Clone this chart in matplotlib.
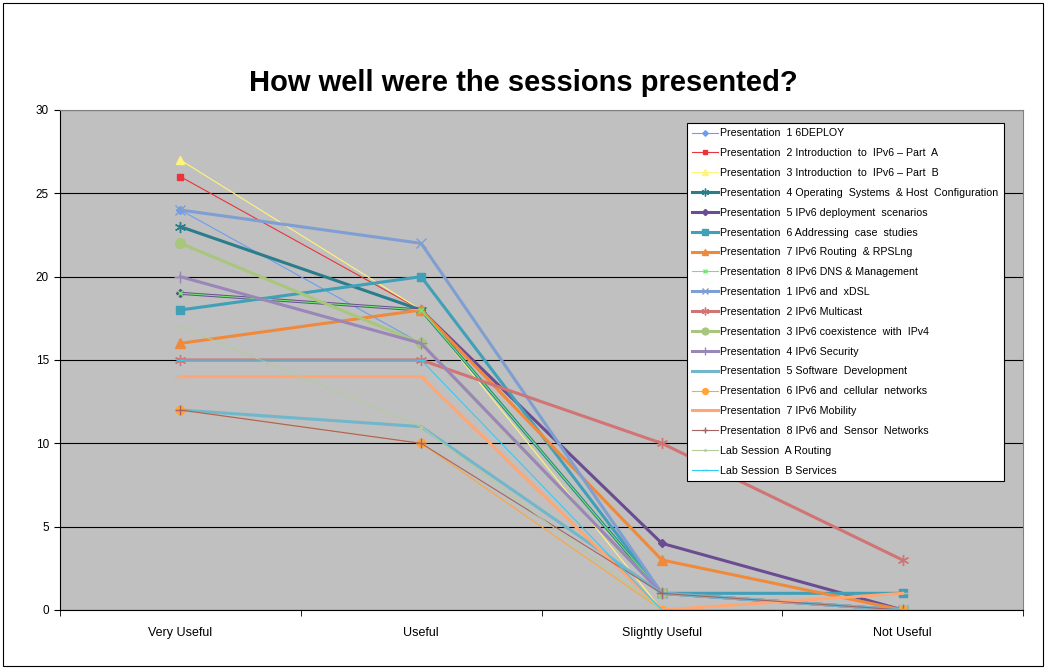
import matplotlib.pyplot as plt
from matplotlib.patches import Rectangle

plt.rcParams['font.family'] = ['Liberation Sans', 'DejaVu Sans']

# Ratings per session
categories = ["Very Useful", "Useful", "Slightly Useful", "Not Useful"]
sessions = [
    "Presentation  1 6DEPLOY",
    "Presentation  2 Introduction  to  IPv6 \u2013 Part  A",
    "Presentation  3 Introduction  to  IPv6 \u2013 Part  B",
    "Presentation  4 Operating  Systems  & Host  Configuration",
    "Presentation  5 IPv6 deployment  scenarios",
    "Presentation  6 Addressing  case  studies",
    "Presentation  7 IPv6 Routing  & RPSLng",
    "Presentation  8 IPv6 DNS & Management",
    "Presentation  1 IPv6 and  xDSL",
    "Presentation  2 IPv6 Multicast",
    "Presentation  3 IPv6 coexistence  with  IPv4",
    "Presentation  4 IPv6 Security",
    "Presentation  5 Software  Development",
    "Presentation  6 IPv6 and  cellular  networks",
    "Presentation  7 IPv6 Mobility",
    "Presentation  8 IPv6 and  Sensor  Networks",
    "Lab Session  A Routing",
    "Lab Session  B Services",
]
votes = [
    [24, 16, 1, 0],
    [26, 18, 1, 0],
    [27, 18, 0, 0],
    [23, 18, 1, 0],
    [19, 18, 4, 0],
    [18, 20, 1, 1],
    [16, 18, 3, 0],
    [19, 18, 1, 0],
    [24, 22, 1, 0],
    [15, 15, 10, 3],
    [22, 16, 1, 0],
    [20, 16, 1, 0],
    [12, 11, 1, 0],
    [12, 10, 0, 0],
    [14, 14, 0, 1],
    [12, 10, 1, 0],
    [17, 11, 0, 0],
    [15, 15, 0, 0],
]

# colour, line width, marker, marker size
styles = [
    ("#6f9cf0", 0.8, "D", 4),
    ("#e8343a", 0.8, "s", 5),
    ("#fff47a", 0.8, "^", 6),
    ("#2b7d8c", 2.2, (6, 2, 0), 8),
    ("#6a4c93", 2.2, "D", 4.5),
    ("#40a0b8", 2.2, "s", 6),
    ("#f08a3a", 2.2, "^", 7),
    ("#6fe86f", 0.8, "x", 5),
    ("#7f9ed2", 2.2, "x", 7),
    ("#d07474", 2.2, (6, 2, 0), 8),
    ("#a8c67c", 2.2, "o", 7),
    ("#9a86b8", 2.2, "+", 8),
    ("#72b6cc", 2.2, "", 0),
    ("#ffa53a", 0.8, "o", 6),
    ("#ffa774", 2.2, "_", 8),
    ("#a46464", 0.8, "+", 7),
    ("#b2cc9c", 0.8, ".", 3),
    ("#33ccf5", 0.8, "_", 6),
]

fig = plt.figure(figsize=(10.47, 6.69), dpi=100)
fig.patches.append(Rectangle((0.003, 0.004), 0.993, 0.992, transform=fig.transFigure,
                             fill=False, edgecolor="black", linewidth=0.8))
ax = fig.add_axes([60 / 1047, 59 / 669, 963 / 1047, 500 / 669])
ax.set_facecolor("#c0c0c0")

x = [i + 0.5 for i in range(len(categories))]
for name, vals, (color, lw, mk, ms) in zip(sessions, votes, styles):
    ax.plot(x, vals, color=color, linewidth=lw, marker=mk if mk else None,
            markersize=ms, markerfacecolor=color, markeredgecolor=color,
            markeredgewidth=1.0, label=name)

ax.set_xlim(0, 4)
ax.set_ylim(0, 30)
ax.set_yticks(range(0, 31, 5))
ax.set_xticks(x)
ax.set_xticklabels(categories)
ax.set_xticks(range(0, 5), minor=True)
ax.tick_params(axis="x", which="major", length=0, pad=12, labelsize=9)
ax.tick_params(axis="x", which="minor", length=4, direction="out")
ax.tick_params(axis="y", length=4, direction="out", labelsize=8.5, pad=4)
ax.yaxis.grid(True, color="black", linewidth=0.8)
ax.set_axisbelow(True)
for side in ("left", "bottom"):
    ax.spines[side].set_color("black")
    ax.spines[side].set_linewidth(0.8)
for side in ("top", "right"):
    ax.spines[side].set_color("#808080")
    ax.spines[side].set_linewidth(0.8)

fig.text(0.5, 0.876, "How well were the sessions presented?", ha="center",
         va="center", fontsize=21, fontweight="bold")

leg = ax.legend(loc="upper left", bbox_to_anchor=(0.651, 0.974), fontsize=7.7,
                frameon=True, fancybox=False, framealpha=1, edgecolor="black",
                handlelength=2.4, handletextpad=0.2, labelspacing=0.92,
                borderpad=0.5, borderaxespad=0, markerscale=0.7)
leg.get_frame().set_linewidth(0.8)

fig.savefig("out.png", dpi=100)
